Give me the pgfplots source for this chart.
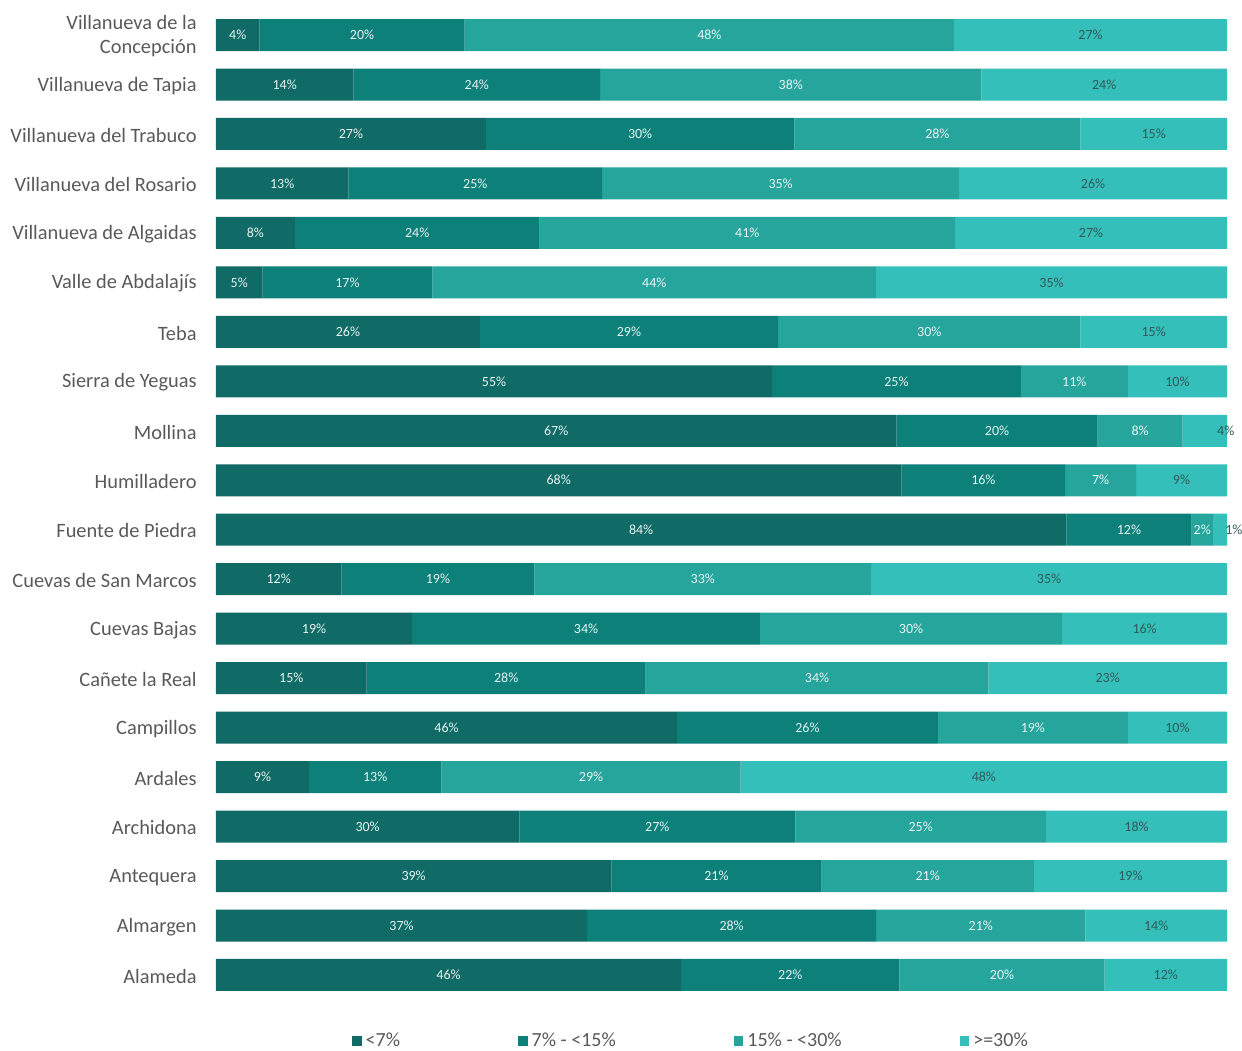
\documentclass[border=0pt]{standalone}
\usepackage{pgfplots}
\pgfplotsset{compat=1.18}
\usepackage{pgfplotstable}
\usepackage{fontspec}
\setmainfont{Carlito}
\definecolor{c1}{RGB}{16,106,101}
\definecolor{c2}{RGB}{14,128,122}
\definecolor{c3}{RGB}{38,165,157}
\definecolor{c4}{RGB}{52,191,187}
\definecolor{labelgray}{RGB}{89,89,89}
\definecolor{inlight}{RGB}{232,244,243}
\definecolor{indark}{RGB}{50,90,88}

\pgfplotstableread{
y v1 v2 v3 v4 l1 l2 l3 l4
0 4.3 20.3 48.4 27.0 4 20 48 27
1 13.6 24.4 37.7 24.3 14 24 38 24
2 26.7 30.5 28.3 14.5 27 30 28 15
3 13.1 25.1 35.3 26.5 13 25 35 26
4 7.8 24.2 41.1 26.9 8 24 41 27
5 4.6 16.8 43.9 34.7 5 17 44 35
6 26.1 29.5 29.9 14.5 26 29 30 15
7 55.0 24.6 10.6 9.8 55 25 11 10
8 67.3 19.9 8.4 4.4 67 20 8 4
9 67.8 16.2 7.0 9.0 68 16 7 9
10 84.1 12.4 2.1 1.4 84 12 2 1
11 12.4 19.1 33.3 35.2 12 19 33 35
12 19.4 34.4 29.9 16.3 19 34 30 16
13 14.9 27.6 33.9 23.6 15 28 34 23
14 45.6 25.8 18.8 9.8 46 26 19 10
15 9.2 13.1 29.6 48.1 9 13 29 48
16 30.0 27.3 24.8 17.9 30 27 25 18
17 39.1 20.8 21.0 19.1 39 21 21 19
18 36.7 28.6 20.7 14.0 37 28 21 14
19 46.0 21.6 20.3 12.1 46 22 20 12
}\data

\pgfplotsset{
  seg/.style={
    fill=#1, draw=none,
    nodes near coords={\pgfplotspointmeta\%},
    point meta=explicit symbolic,
    every node near coord/.append style={anchor=center, inner sep=0pt,
      font=\fontsize{7}{8}\selectfont},
    legend image code/.code={\fill[##1] (0pt,-2.4pt) rectangle (4.8pt,2.4pt);},
  },
}

\begin{document}
\begin{tikzpicture}
\useasboundingbox (-108pt,-25.15pt) rectangle (513pt,499.85pt);
\begin{axis}[
  at={(0,0)}, anchor=south west,
  scale only axis, width=505.5pt, height=494.7pt,
  xbar stacked, bar width=16pt,
  xmin=0, xmax=100, ymin=-0.5, ymax=19.5, y dir=reverse,
  axis line style={draw=none}, tick style={draw=none},
  xtick=\empty, ytick={0,...,19},
  yticklabels={{Villanueva de la\\Concepción},Villanueva de Tapia,Villanueva del Trabuco,Villanueva del Rosario,Villanueva de Algaidas,Valle de Abdalajís,Teba,Sierra de Yeguas,Mollina,Humilladero,Fuente de Piedra,Cuevas de San Marcos,Cuevas Bajas,Cañete la Real,Campillos,Ardales,Archidona,Antequera,Almargen,Alameda},
  yticklabel style={align=right, anchor=east, inner sep=0pt, xshift=-9.5pt, yshift=-0.6pt,
    font=\fontsize{10.2}{12.2}\selectfont, text=labelgray},
  legend columns=4,
  legend style={draw=none, fill=none, at={(0.4708,-0.0417)}, anchor=center,
    font=\fontsize{10}{12}\selectfont, text=labelgray,
    /tikz/every even column/.append style={column sep=57pt}},
]
\addplot[seg=c1, every node near coord/.append style={text=inlight}] table[x=v1, y=y, meta=l1] \data;
\addplot[seg=c2, every node near coord/.append style={text=inlight}] table[x=v2, y=y, meta=l2] \data;
\addplot[seg=c3, every node near coord/.append style={text=inlight}] table[x=v3, y=y, meta=l3] \data;
\addplot[seg=c4, visualization depends on={rawy\as\ry},
  every node near coord/.append style={text=indark, xshift={(\ry==8)*10.5pt+(\ry==10)*7pt}}]
  table[x=v4, y=y, meta=l4] \data;
\legend{<7\%, 7\% - <15\%, 15\% - <30\%, >=30\%}
\end{axis}
\end{tikzpicture}
\end{document}
